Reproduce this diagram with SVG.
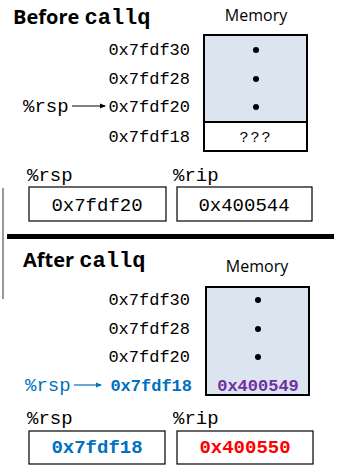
<svg xmlns="http://www.w3.org/2000/svg" width="339" height="474" viewBox="0 0 339 474">
<style>
.h{font-family:"Open Sans","Liberation Sans",sans-serif;font-weight:700;font-size:20px;fill:#000}
.hm{font-family:"Liberation Mono",monospace;font-weight:700;font-size:22px}
.mem{font-family:"Open Sans","Liberation Sans",sans-serif;font-size:16px;fill:#000;text-anchor:middle}
.addr{font-family:"Liberation Mono",monospace;font-size:17px;fill:#000;text-anchor:end}
.reg{font-family:"Liberation Mono",monospace;font-size:19px;fill:#000}
.val{font-family:"Liberation Mono",monospace;font-size:19px;fill:#000;text-anchor:middle}
.blue{fill:#0070c0}
.box{fill:#fff;stroke:#000;stroke-width:1.2}
.membox{fill:#dce4ef;stroke:#000;stroke-width:2}
.dot{fill:#000}
</style>
<defs>
<marker id="ahb" markerWidth="6" markerHeight="6" refX="5" refY="3" orient="auto" markerUnits="userSpaceOnUse">
<path d="M0,0.5 L6,3 L0,5.5 Z" fill="#0070c0"/>
</marker>
<marker id="ahk" markerWidth="6" markerHeight="6" refX="5" refY="3" orient="auto" markerUnits="userSpaceOnUse">
<path d="M0,0.5 L6,3 L0,5.5 Z" fill="#000"/>
</marker>
</defs>

<g id="before-title"><text x="13" y="24" class="h">Before <tspan class="hm">callq</tspan></text></g>
<g id="before-memory">
<text x="256" y="21" class="mem">Memory</text>
<rect x="204" y="35" width="103" height="116" class="membox"/>
<rect x="204" y="122" width="103" height="29" fill="#fff" stroke="#000" stroke-width="2"/>
<circle cx="256" cy="50" r="3" class="dot"/>
<circle cx="256" cy="79" r="3" class="dot"/>
<circle cx="256" cy="107" r="3" class="dot"/>
<text x="256" y="142" font-family="Liberation Mono,monospace" font-size="15" letter-spacing="2" text-anchor="middle">???</text>
</g>
<g id="before-addresses">
<text x="190" y="55" class="addr">0x7fdf30</text>
<text x="190" y="84" class="addr">0x7fdf28</text>
<text x="190" y="112" class="addr">0x7fdf20</text>
<text x="190" y="142" class="addr">0x7fdf18</text>
<text x="23" y="112" class="reg">%rsp</text>
</g>
<g id="before-rsp">
<text x="27" y="181" class="reg">%rsp</text>
<rect x="29" y="187" width="137" height="34" class="box"/>
<text x="97" y="211" class="val">0x7fdf20</text>
</g>
<g id="before-rip">
<text x="173" y="181" class="reg">%rip</text>
<rect x="177" y="187" width="135" height="34" class="box"/>
<text x="244" y="211" class="val">0x400544</text>
</g>

<g id="divider">
<rect x="7" y="234" width="327" height="5" fill="#000"/>
<line x1="3" y1="188" x2="3" y2="299" stroke="#777" stroke-width="1.5"/>
</g>

<g id="after-title"><text x="23" y="267" class="h">After <tspan class="hm">callq</tspan></text></g>
<g id="after-memory">
<text x="257" y="272" class="mem">Memory</text>
<rect x="206" y="287" width="103" height="108" class="membox"/>
<circle cx="258" cy="300" r="3" class="dot"/>
<circle cx="258" cy="329" r="3" class="dot"/>
<circle cx="258" cy="357" r="3" class="dot"/>
<text x="258" y="391" font-family="Liberation Mono,monospace" font-weight="700" font-size="17" fill="#7030a0" text-anchor="middle">0x400549</text>
</g>
<g id="after-addresses">
<text x="190" y="305" class="addr">0x7fdf30</text>
<text x="190" y="334" class="addr">0x7fdf28</text>
<text x="190" y="362" class="addr">0x7fdf20</text>
<text x="192" y="391" class="addr blue" font-weight="700">0x7fdf18</text>
<text x="25" y="391" class="reg blue">%rsp</text>
</g>
<g id="after-rsp">
<text x="27" y="424" class="reg">%rsp</text>
<rect x="29" y="431" width="136" height="33" class="box"/>
<text x="97" y="453" class="val blue" font-weight="700">0x7fdf18</text>
</g>
<g id="after-rip">
<text x="173" y="424" class="reg">%rip</text>
<rect x="177" y="431" width="136" height="33" class="box"/>
<text x="245" y="453" class="val" font-weight="700" style="fill:#ff0000">0x400550</text>
</g>

<g id="connectors">
<line x1="72" y1="106" x2="105" y2="106" stroke="#000" stroke-width="1" marker-end="url(#ahk)"/>
<line x1="74" y1="385" x2="101" y2="385" stroke="#0070c0" stroke-width="1.2" marker-end="url(#ahb)"/>
</g>
</svg>
